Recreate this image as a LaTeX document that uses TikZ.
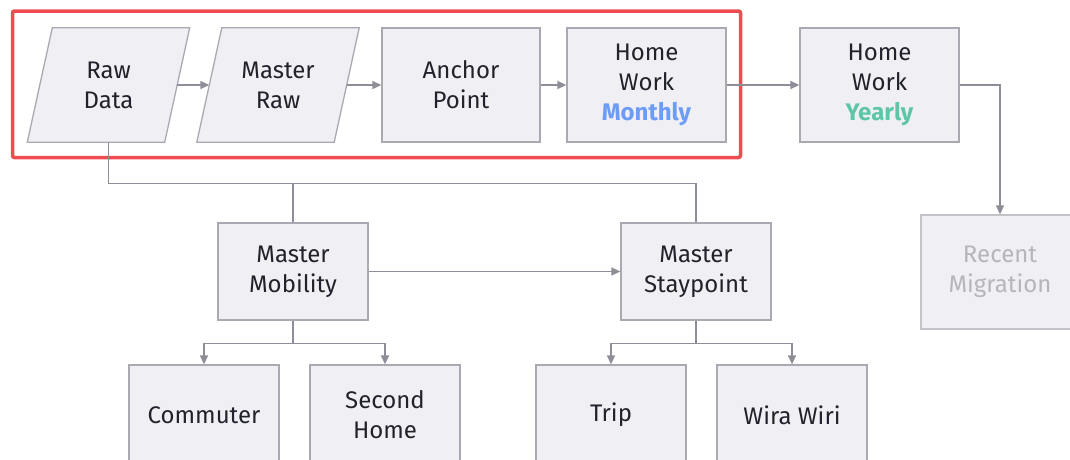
\documentclass[tikz,border=0pt]{standalone}
\usepackage{fontspec}
\setmainfont{Fira Sans}
\usetikzlibrary{arrows.meta,calc}
\pgfdeclarelayer{background}
\pgfsetlayers{background,main}
\definecolor{boxc}{HTML}{F0F0F4}
\definecolor{bordc}{HTML}{A9A9B2}
\definecolor{linec}{HTML}{8E8E98}
\definecolor{txtc}{HTML}{22222C}
\definecolor{redc}{HTML}{F04A52}
\definecolor{bluec}{HTML}{6D9CF5}
\definecolor{greenc}{HTML}{5CC6A6}
\definecolor{fadec}{HTML}{B5B5BA}
\begin{document}
\begin{tikzpicture}[x=1pt,y=-1pt,
  txt/.style={align=center,text=txtc,font=\fontsize{24}{30}\selectfont,inner sep=0pt},
  box/.style={txt,draw=bordc,fill=boxc,line width=1.3pt,minimum height=114pt},
  pbox/.style={txt,minimum width=137pt,minimum height=114pt},
  para/.style={draw=bordc,fill=boxc,line width=1.3pt},
  line/.style={draw=linec,line width=1.4pt},
  arrow/.style={line,-{Triangle[length=9pt,width=8pt]}},
  frame/.style={draw=redc,line width=3.5pt,rounded corners=2pt}]
\useasboundingbox (0,0) rectangle (1070,459);
\clip (0,0) rectangle (1070,459);

% red frame
\draw[frame] (12.5,11) rectangle (740.5,157.5);

% top row
\node[pbox] (raw) at (108.5,85) {Raw\\Data};
\node[pbox] (mraw) at (278,85) {Master\\Raw};
\node[box,minimum width=158pt] (anchor) at (461,85) {Anchor\\Point};
\node[box,minimum width=159pt] (monthly) at (646.5,85) {Home\\Work\\\textcolor{bluec}{\textbf{Monthly}}};
\node[box,minimum width=159pt] (yearly) at (879.5,85) {Home\\Work\\\textcolor{greenc}{\textbf{Yearly}}};
\node[box,minimum width=158pt,text=fadec,draw=bordc!70] (recent) at (1000,272) {Recent\\Migration};

\begin{pgfonlayer}{background}
  \fill[white] (0,0) rectangle (1070,459);
  \foreach \n in {raw,mraw}{
    \draw[para] ($(\n.north west)+(12.5,0)$) -- ($(\n.north east)+(12.5,0)$)
      -- ($(\n.south east)+(-12.5,0)$) -- ($(\n.south west)+(-12.5,0)$) -- cycle;
  }
\end{pgfonlayer}

% middle row
\node[box,minimum width=150pt,minimum height=97pt] (mmob) at (293,271.5) {Master\\Mobility};
\node[box,minimum width=150pt,minimum height=97pt] (mstay) at (696,271.5) {Master\\Staypoint};

% bottom row
\node[box,minimum width=150pt,minimum height=100pt] (commuter) at (204,415) {Commuter};
\node[box,minimum width=150pt,minimum height=100pt] (second) at (385,415) {Second\\Home};
\node[box,minimum width=150pt,minimum height=100pt] (trip) at (611,415) {Trip};
\node[box,minimum width=150pt,minimum height=100pt] (wira) at (792,415) {Wira Wiri};

% connectors top row
\draw[arrow] (raw.east) -- (mraw.west);
\draw[arrow] (mraw.east) -- (anchor.west);
\draw[arrow] (anchor.east) -- (monthly.west);
\draw[arrow] (monthly.east) -- (yearly.west);
\draw[arrow] (yearly.east) -| (recent.north);

% raw data tree
\coordinate (j) at ($(raw.south)+(0,41)$);
\draw[line] (raw.south) -- (j) -| (mstay.north);
\draw[line] (mmob.north) -- (mmob.north |- j);

% mobility to staypoint
\draw[arrow] (mmob.east) -- (mstay.west);

% branches
\coordinate (bm) at ($(mmob.south)+(0,23)$);
\draw[line] (mmob.south) -- (bm);
\draw[arrow] (bm) -| (commuter.north);
\draw[arrow] (bm) -| (second.north);
\coordinate (bs) at ($(mstay.south)+(0,23)$);
\draw[line] (mstay.south) -- (bs);
\draw[arrow] (bs) -| (trip.north);
\draw[arrow] (bs) -| (wira.north);
\end{tikzpicture}
\end{document}
